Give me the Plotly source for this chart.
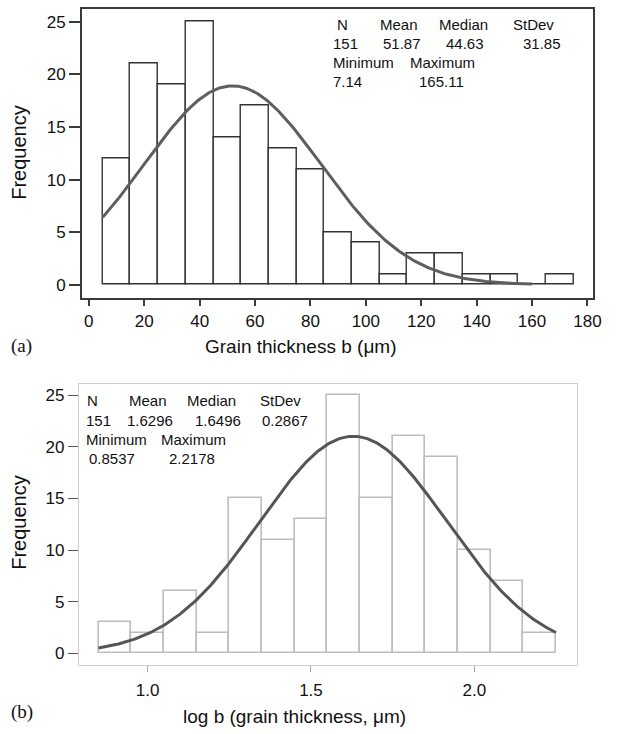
import numpy as np
import plotly.graph_objects as go

W, H = 619, 734

# ---- panel (a): grain thickness b (um), bin width 10 ----
b_centers = [10, 20, 30, 40, 50, 60, 70, 80, 90, 100, 110, 120, 130, 140, 150, 160, 170]
b_counts = [12, 21, 19, 25, 14, 17, 13, 11, 5, 4, 1, 3, 3, 1, 1, 0, 1]
b_width = 10
b_n, b_mean, b_sd = 151, 51.87, 31.85
b_stats_head = ["N", "Mean", "Median", "StDev"]
b_stats_vals = ["151", "51.87", "44.63", "31.85"]
b_minmax_head = ["Minimum", "Maximum"]
b_minmax_vals = ["7.14", "165.11"]

# ---- panel (b): log b, bin width 0.1 ----
lb_centers = [0.9, 1.0, 1.1, 1.2, 1.3, 1.4, 1.5, 1.6, 1.7, 1.8, 1.9, 2.0, 2.1, 2.2]
lb_counts = [3, 2, 6, 2, 15, 11, 13, 25, 15, 21, 19, 10, 7, 2]
lb_width = 0.1
lb_n, lb_mean, lb_sd = 151, 1.6296, 0.2867
lb_stats_head = ["N", "Mean", "Median", "StDev"]
lb_stats_vals = ["151", "1.6296", "1.6496", "0.2867"]
lb_minmax_head = ["Minimum", "Maximum"]
lb_minmax_vals = ["0.8537", "2.2178"]

SANS = "Liberation Sans, Arial, Helvetica, sans-serif"
SERIF = "Liberation Serif, Times New Roman, serif"


def normal_fit(x, n, width, mu, sd):
    return n * width * np.exp(-0.5 * ((x - mu) / sd) ** 2) / (sd * np.sqrt(2 * np.pi))


def px(x, y):
    return x / W, 1 - y / H


fig = go.Figure()

# histogram (a)
fig.add_trace(go.Bar(
    x=b_centers, y=b_counts, width=[b_width] * len(b_centers),
    marker=dict(color="white", line=dict(color="#333333", width=1.4)),
    xaxis="x", yaxis="y", showlegend=False, hoverinfo="x+y"))
xa = np.linspace(5, 160, 300)
fig.add_trace(go.Scatter(
    x=xa, y=normal_fit(xa, b_n, b_width, b_mean, b_sd), mode="lines",
    line=dict(color="#5e5e5e", width=3), xaxis="x", yaxis="y", showlegend=False))

# histogram (b)
fig.add_trace(go.Bar(
    x=lb_centers, y=lb_counts, width=[lb_width] * len(lb_centers),
    marker=dict(color="white", line=dict(color="#bdbdbd", width=1.6)),
    xaxis="x2", yaxis="y2", showlegend=False, hoverinfo="x+y"))
xb = np.linspace(0.85, 2.25, 300)
fig.add_trace(go.Scatter(
    x=xb, y=normal_fit(xb, lb_n, lb_width, lb_mean, lb_sd), mode="lines",
    line=dict(color="#555555", width=3), xaxis="x2", yaxis="y2", showlegend=False))

tick_font = dict(family=SANS, size=17, color="#111111")

# plot-area frames
xa_dom = [px(83, 0)[0], px(601, 0)[0]]
ya_dom = [px(0, 297.5)[1], px(0, 8.5)[1]]
xb_dom = [px(80, 0)[0], px(585, 0)[0]]
yb_dom = [px(0, 664.5)[1], px(0, 384)[1]]

fig.update_layout(
    width=W, height=H, margin=dict(l=0, r=0, t=0, b=0),
    paper_bgcolor="white", plot_bgcolor="white", bargap=0,
    xaxis=dict(domain=xa_dom, anchor="y", range=[-2.5, 182.1],
               tickmode="array", tickvals=list(range(0, 181, 20)),
               showgrid=False, zeroline=False, showline=True, mirror=True,
               linecolor="#3a3a3a", linewidth=1.5,
               ticks="outside", ticklen=7, tickwidth=1.5, tickcolor="#3a3a3a",
               tickfont=tick_font),
    yaxis=dict(domain=ya_dom, anchor="x", range=[-1.22, 26.27],
               tickmode="array", tickvals=[0, 5, 10, 15, 20, 25],
               showgrid=False, zeroline=False, showline=True, mirror=True,
               linecolor="#3a3a3a", linewidth=1.5,
               ticks="outside", ticklen=11, tickwidth=1.5, tickcolor="#3a3a3a",
               tickfont=tick_font),
    xaxis2=dict(domain=xb_dom, anchor="y2", range=[0.79, 2.3156],
                tickmode="array", tickvals=[1.0, 1.5, 2.0], ticktext=["1.0", "1.5", "2.0"],
                showgrid=False, zeroline=False, showline=True, mirror=True,
                linecolor="#cfcfcf", linewidth=1.2,
                ticks="outside", ticklen=6, tickwidth=1, tickcolor="#aaaaaa",
                ticklabelstandoff=4, tickfont=tick_font),
    yaxis2=dict(domain=yb_dom, anchor="x2", range=[-1.08, 26.07],
                tickmode="array", tickvals=[0, 5, 10, 15, 20, 25],
                showgrid=False, zeroline=False, showline=True, mirror=True,
                linecolor="#cfcfcf", linewidth=1.2,
                ticks="outside", ticklen=10, tickwidth=1.2, tickcolor="#555555",
                tickfont=tick_font),
)

annotations = []


def label(text, x, y, size=15, family=SANS, xanchor="left", angle=0):
    ax, ay = px(x, y)
    annotations.append(dict(text=text, x=ax, y=ay, xref="paper", yref="paper",
                            xanchor=xanchor, yanchor="middle", showarrow=False,
                            textangle=angle,
                            font=dict(family=family, size=size, color="#111111")))


# summary statistics, panel (a)
for t, x in zip(b_stats_head, [339, 383, 443, 518]):
    label(t, x, 24)
for t, x in zip(b_stats_vals, [335, 386, 450, 528]):
    label(t, x, 43)
for t, x in zip(b_minmax_head, [335, 413]):
    label(t, x, 62)
for t, x in zip(b_minmax_vals, [335, 422]):
    label(t, x, 82)

# summary statistics, panel (b)
for t, x in zip(lb_stats_head, [86, 129, 187, 261]):
    label(t, x, 400)
for t, x in zip(lb_stats_vals, [85, 127, 196, 263]):
    label(t, x, 420)
for t, x in zip(lb_minmax_head, [85, 161]):
    label(t, x, 439)
for t, x in zip(lb_minmax_vals, [88, 169]):
    label(t, x, 458)

# axis titles and panel tags
label("Frequency", 19, 152, size=20, xanchor="center", angle=-90)
label("Frequency", 19, 522, size=20, xanchor="center", angle=-90)
label("Grain thickness b (μm)", 305, 346, size=19, xanchor="center")
label("log b (grain thickness, μm)", 298, 716, size=19, xanchor="center")
label("(a)", 22, 346, size=19, family=SERIF, xanchor="center")
label("(b)", 22, 712, size=19, family=SERIF, xanchor="center")

fig.update_layout(annotations=annotations)

fig.write_html("out.html")
